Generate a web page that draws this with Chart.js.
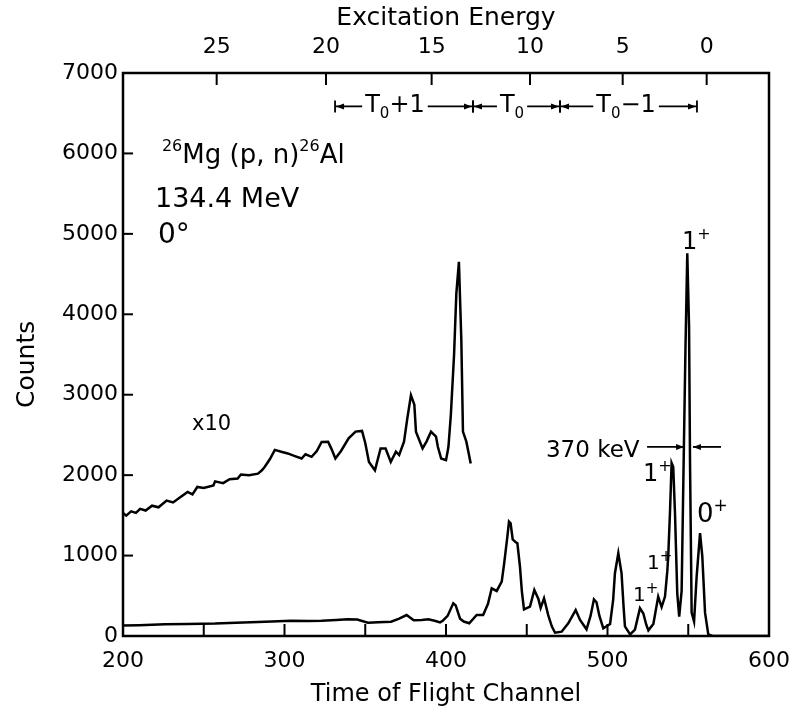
<!DOCTYPE html>
<html><head><meta charset="utf-8">
<script src="https://cdn.jsdelivr.net/npm/chart.js@4.4.1/dist/chart.umd.min.js"></script>
<style>html,body{margin:0;padding:0;background:#fff}#wrap{width:795px;height:716px}</style>
</head><body><div id="wrap"><canvas id="c" width="795" height="716"></canvas></div>
<script>
// ---- data ----
const mainChannels = [200,210,226,240,257,270,288,304,315,323,332,339,345,351.7,358,366,371,375.6,380,385,389,393,396.3,398,401,404.5,406,408.7,411,414.4,419,423,426,428.3,431.4,434.5,436,438,439,440,441.3,443,444.2,445.8,447,448.3,452,454.7,457.2,458.6,460.7,463.3,465.5,467.5,471.6,475.7,480.3,483,487,489.5,491.6,493.2,495,497.4,501.6,503.5,504.6,506.7,508.7,510,510.8,514,517,520.1,522.2,524,525.3,528.4,531.4,533.5,535.6,537,537.6,538.7,539.7,540.7,541.8,543.2,544.4,545.9,547.3,548.3,549.4,550.5,551.1,552.1,553.6,555.2,557.3,558.7,560.4,562.4,565,600];
const mainCounts   = [130,135,145,150,155,165,178,190,185,190,200,208,205,165,170,178,215,261,195,200,208,190,170,190,250,407,380,215,180,158,261,261,400,593,560,675,900,1235,1422,1400,1200,1170,1153,862,550,332,365,572,460,350,469,260,120,41,54,158,323,200,83,250,456,420,250,95,150,450,780,1030,780,350,120,20,80,345,280,140,70,150,490,360,490,800,990,1545,2150,2100,1520,530,240,560,2355,3600,4760,3850,2150,290,180,740,1280,990,290,20,0,0];

const x10Channels = [200,202,205,208,210.6,214,218,222,227,231,235,240,243,246,250,256,257,262,266,271,273,278,283.6,286,287.7,291,294,298,302,306,310.6,313,316.8,320,323,327,329,331.5,335,339.7,344,348,350,352.3,356,359.5,362.6,365.8,369,371,374,376,378.3,380.4,381.4,385.5,388,390.7,393.8,395,397,400,401.5,403,405,406.4,408,409.5,410.5,412.6,415.3];
const x10Counts   = [1530,1497,1550,1530,1580,1560,1620,1600,1684,1660,1720,1791,1760,1853,1840,1872,1923,1900,1950,1957,2007,2000,2019,2060,2102,2200,2314,2290,2270,2240,2207,2260,2228,2300,2413,2416,2330,2207,2300,2458,2541,2550,2400,2165,2061,2332,2332,2165,2291,2250,2416,2700,2993,2876,2541,2332,2420,2541,2479,2350,2207,2186,2350,2750,3500,4256,4652,3670,2541,2416,2145];

const bottomTickChannels = [200,250,300,350,400,450,500,550,600];
const bottomTickLabels   = ['200','','300','','400','','500','','600'];
const yTickValues = [0,1000,2000,3000,4000,5000,6000,7000];
const topTickChannels = [258,325.7,391.1,452,509.4,561.4];
const topTickLabels   = ['25','20','15','10','5','0'];

const FONT = 'DejaVu Sans';

function tri(ctx, x, y, dir) { // arrowhead tip at (x,y), dir +1 right, -1 left
  ctx.beginPath();
  ctx.moveTo(x, y);
  ctx.lineTo(x - dir*8, y - 3);
  ctx.lineTo(x - dir*8, y + 3);
  ctx.closePath();
  ctx.fill();
}
function rich(ctx, x, y, parts, align) {
  let w = 0;
  parts.forEach(p => { ctx.font = p.size + 'px "' + FONT + '"'; p.w = ctx.measureText(p.t).width; w += p.w; });
  let cx = align === 'center' ? x - w/2 : x;
  ctx.textAlign = 'left'; ctx.textBaseline = 'alphabetic';
  parts.forEach(p => { ctx.font = p.size + 'px "' + FONT + '"'; ctx.fillText(p.t, cx, y + (p.dy||0)); cx += p.w; });
  return w;
}

const decor = {
  id: 'decor',
  afterDraw(chart) {
    const {ctx, chartArea: a, scales} = chart;
    const X = v => scales.x.getPixelForValue(v), Y = v => scales.y.getPixelForValue(v);
    ctx.save();
    ctx.strokeStyle = '#000'; ctx.fillStyle = '#000'; ctx.lineWidth = 2.5;
    ctx.strokeRect(a.left, a.top, a.right - a.left, a.bottom - a.top);
    ctx.lineWidth = 2;
    yTickValues.forEach(v => { if (v > 0 && v < 7000) { ctx.beginPath(); ctx.moveTo(a.left, Y(v)); ctx.lineTo(a.left + 10, Y(v)); ctx.stroke(); } });
    bottomTickChannels.forEach(v => { if (v > 200 && v < 600) { ctx.beginPath(); ctx.moveTo(X(v), a.bottom); ctx.lineTo(X(v), a.bottom - 12); ctx.stroke(); } });
    topTickChannels.forEach(v => { ctx.beginPath(); ctx.moveTo(X(v), a.top); ctx.lineTo(X(v), a.top + 12); ctx.stroke(); });

    // y axis title
    ctx.save();
    ctx.translate(27, Y(3377));
    ctx.rotate(-Math.PI / 2);
    ctx.font = '25px "' + FONT + '"';
    ctx.textAlign = 'center'; ctx.textBaseline = 'middle';
    ctx.fillText('Counts', 0, 0);
    ctx.restore();

    // reaction label
    rich(ctx, X(224.1), Y(5884), [{t:'26',size:16,dy:-12},{t:'Mg (p, n)',size:26},{t:'26',size:16,dy:-12},{t:'Al',size:26}], 'left');
    rich(ctx, X(219.8), Y(5337), [{t:'134.4 MeV',size:27}], 'left');
    rich(ctx, X(221.7), Y(4889), [{t:'0°',size:28}], 'left');
    rich(ctx, X(242.7), Y(2563), [{t:'x10',size:21}], 'left');
    rich(ctx, X(461.9), Y(2227), [{t:'370 keV',size:23}], 'left');

    // 370 keV arrows
    ctx.lineWidth = 1.8;
    const ay = Y(2351);
    ctx.beginPath(); ctx.moveTo(X(524.5), ay); ctx.lineTo(X(547.4), ay); ctx.stroke(); tri(ctx, X(547.4), ay, 1);
    ctx.beginPath(); ctx.moveTo(X(570.3), ay); ctx.lineTo(X(552.9), ay); ctx.stroke(); tri(ctx, X(552.9), ay, -1);

    // spin labels
    rich(ctx, X(546.1), Y(4814), [{t:'1',size:24},{t:'+',size:16,dy:-10}], 'left');
    rich(ctx, X(522.0), Y(1932), [{t:'1',size:24},{t:'+',size:16,dy:-10}], 'left');
    rich(ctx, X(555.4), Y(1418), [{t:'0',size:26},{t:'+',size:17,dy:-11}], 'left');
    rich(ctx, X(524.5), Y(833),  [{t:'1',size:20},{t:'+',size:15,dy:-8}], 'left');
    rich(ctx, X(515.8), Y(435),  [{t:'1',size:20},{t:'+',size:15,dy:-8}], 'left');

    // isospin brackets
    const by = Y(6585), tb = Y(6519);
    const segs = [
      {a:331.3, b:416.7, c:368.4, parts:[{t:'T',size:24},{t:'0',size:15,dy:6},{t:'+1',size:24}]},
      {a:416.7, b:470.6, c:440.9, parts:[{t:'T',size:24},{t:'0',size:15,dy:6}]},
      {a:470.6, b:555.4, c:511.5, parts:[{t:'T',size:24},{t:'0',size:15,dy:6},{t:'−1',size:24}]}
    ];
    ctx.lineWidth = 1.8;
    segs.forEach(s => {
      const w = rich(ctx, X(s.c), tb, s.parts, 'center');
      const pa = X(s.a), pb = X(s.b), pc = X(s.c);
      ctx.beginPath(); ctx.moveTo(pa, by - 6); ctx.lineTo(pa, by + 6); ctx.stroke();
      ctx.beginPath(); ctx.moveTo(pb, by - 6); ctx.lineTo(pb, by + 6); ctx.stroke();
      ctx.beginPath(); ctx.moveTo(pa, by); ctx.lineTo(pc - w/2 - 3, by); ctx.stroke();
      ctx.beginPath(); ctx.moveTo(pc + w/2 + 3, by); ctx.lineTo(pb, by); ctx.stroke();
      tri(ctx, pa + 1, by, -1); tri(ctx, pb - 1, by, 1);
    });
    ctx.restore();
  }
};

const toXY = (xs, ys) => xs.map((x, i) => ({x, y: ys[i]}));
const fixX = h => s => { s.height = h; s.paddingLeft = 0; s.paddingRight = 0; };

new Chart(document.getElementById('c'), {
  type: 'line',
  data: {
    datasets: [
      {label: 'x10', data: toXY(x10Channels, x10Counts), borderColor: '#000', borderWidth: 2.5, pointRadius: 0, tension: 0, fill: false},
      {label: 'counts', data: toXY(mainChannels, mainCounts), borderColor: '#000', borderWidth: 2.5, pointRadius: 0, tension: 0, fill: false}
    ]
  },
  options: {
    responsive: false, animation: false,
    layout: {padding: {right: 26, left: 0, top: 0, bottom: 0}},
    plugins: {legend: {display: false}, tooltip: {enabled: false}},
    scales: {
      x: {
        type: 'linear', position: 'bottom', min: 200, max: 600,
        afterBuildTicks: s => { s.ticks = bottomTickChannels.map(v => ({value: v})); },
        afterFit: fixX(80),
        grid: {display: false, drawTicks: false}, border: {display: false},
        ticks: {color: '#000', font: {family: FONT, size: 22}, padding: 12, maxRotation: 0, autoSkip: false,
          callback: (v, i) => bottomTickLabels[i]},
        title: {display: true, text: 'Time of Flight Channel', color: '#000', font: {family: FONT, size: 24}, padding: {top: 0, bottom: 7}}
      },
      x2: {
        type: 'linear', position: 'top', min: 200, max: 600,
        afterBuildTicks: s => { s.ticks = topTickChannels.map(v => ({value: v})); },
        afterFit: fixX(73),
        grid: {display: false, drawTicks: false}, border: {display: false},
        ticks: {color: '#000', font: {family: FONT, size: 22}, padding: 13, maxRotation: 0, autoSkip: false,
          callback: (v, i) => topTickLabels[i]},
        title: {display: true, text: 'Excitation Energy', color: '#000', font: {family: FONT, size: 25}, padding: {top: 3, bottom: 0}}
      },
      y: {
        type: 'linear', min: 0, max: 7000,
        afterBuildTicks: s => { s.ticks = yTickValues.map(v => ({value: v})); },
        afterFit: s => { s.width = 123; s.paddingTop = 0; s.paddingBottom = 0; },
        grid: {display: false, drawTicks: false}, border: {display: false},
        ticks: {color: '#000', font: {family: FONT, size: 22}, padding: 5, callback: v => String(v)},
        title: {display: false}
      }
    }
  },
  plugins: [decor]
});
</script></body></html>
